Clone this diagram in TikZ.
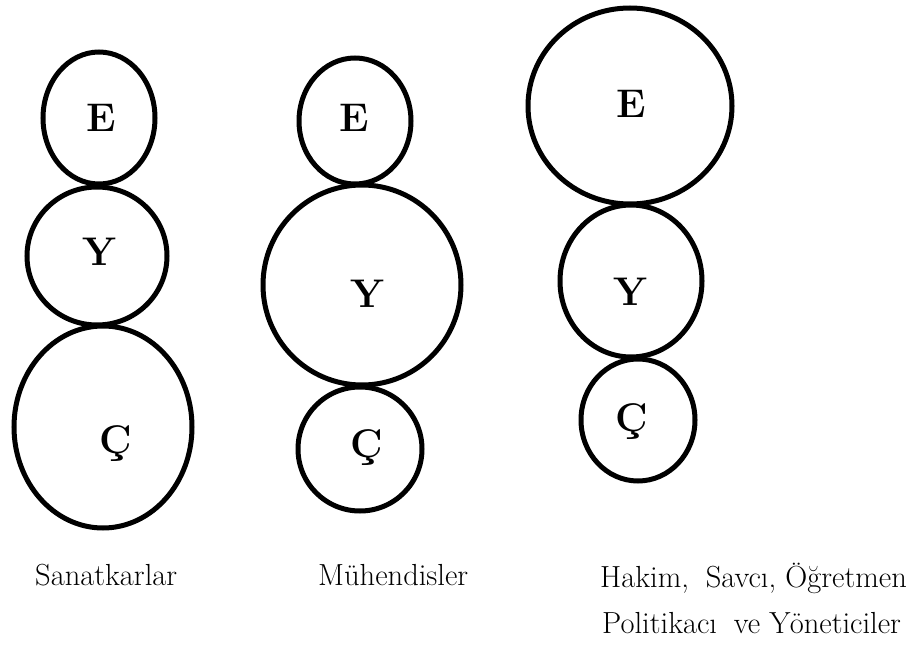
\documentclass[tikz,border=0pt]{standalone}
\usetikzlibrary{shapes.geometric}
\tikzset{
  ring/.style={draw=black, line width=5pt, ellipse, inner sep=0pt, outer sep=0pt},
  letter/.style={font=\bfseries\fontsize{40}{42}\selectfont, anchor=base, inner sep=0pt},
  caption/.style={font=\fontsize{30.5}{32}\selectfont, anchor=base west, inner sep=0pt}
}
\begin{document}
\begin{tikzpicture}[x=1pt,y=-1pt]
\useasboundingbox (0,0) rectangle (922,652);
% column 1
\node[ring, minimum width=112pt, minimum height=132pt] (e1) at (99,118) {};
\node[ring, minimum width=140pt, minimum height=138pt] (y1) at (97,256) {};
\node[ring, minimum width=178pt, minimum height=202pt] (c1) at (103,427) {};
% column 2
\node[ring, minimum width=112pt, minimum height=126pt] (e2) at (355,121) {};
\node[ring, minimum width=198pt, minimum height=200pt] (y2) at (362,285) {};
\node[ring, minimum width=124pt, minimum height=124pt] (c2) at (360,449) {};
% column 3
\node[ring, minimum width=204pt, minimum height=196pt] (e3) at (630,106) {};
\node[ring, minimum width=142pt, minimum height=152pt] (y3) at (631,281) {};
\node[ring, minimum width=114pt, minimum height=122pt] (c3) at (638,420) {};
% letters
\node[letter] (le1) at (101,132) {E};
\node[letter] (ly1) at (99,266) {Y};
\node[letter] (lc1) at (116,454) {Ç};
\node[letter] (le2) at (354,132) {E};
\node[letter] (ly2) at (367,308) {Y};
\node[letter] (lc2) at (367,457) {Ç};
\node[letter] (le3) at (631,118) {E};
\node[letter] (ly3) at (630,306) {Y};
\node[letter] (lc3) at (632,432) {Ç};
% captions
\node[caption] (t1) at (35,585) {Sanatkarlar};
\node[caption] (t2) at (318,585) {Mühendisler};
\node[caption] (t3) at (600,587) {Hakim,\hspace{0.25em} Savcı, Öğretmen};
\node[caption] (t4) at (602,633) {Politikacı\hspace{0.25em} ve Yöneticiler};
\end{tikzpicture}
\end{document}
